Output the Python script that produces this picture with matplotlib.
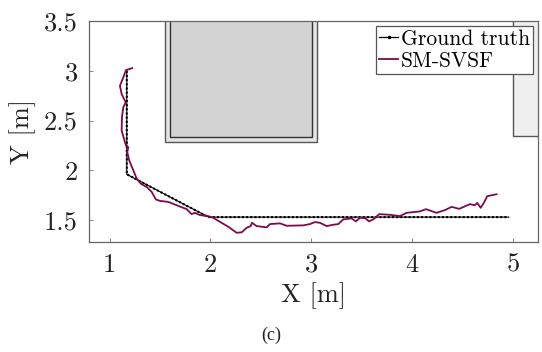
import matplotlib
matplotlib.use("Agg")
import matplotlib.pyplot as plt
from matplotlib.patches import Rectangle
from matplotlib.lines import Line2D

plt.rcParams['font.family'] = ['cmr10', 'DejaVu Serif']
plt.rcParams['axes.formatter.use_mathtext'] = True
plt.rcParams['mathtext.fontset'] = 'cm'

# Ground truth path (corner points)
gt_x = [1.17, 1.17, 1.98, 4.96]
gt_y = [3.00, 1.96, 1.53, 1.53]

# SM-SVSF estimated trajectory
est_x = [1.224, 1.162, 1.129, 1.102, 1.119, 1.159, 1.135, 1.122, 1.119, 1.142,
         1.162, 1.185, 1.175, 1.194, 1.228, 1.268, 1.31, 1.367, 1.417, 1.459,
         1.499, 1.581, 1.681, 1.764, 1.813, 1.846, 1.896, 1.978, 2.028, 2.094,
         2.177, 2.26, 2.31, 2.359, 2.399, 2.412, 2.458, 2.558, 2.59, 2.69,
         2.756, 2.921, 2.987, 3.037, 3.086, 3.153, 3.218, 3.268, 3.317, 3.401,
         3.443, 3.483, 3.533, 3.575, 3.615, 3.675, 3.781, 3.88, 3.946, 4.078,
         4.138, 4.244, 4.326, 4.393, 4.468, 4.574, 4.624, 4.647, 4.681, 4.713,
         4.746, 4.839]
est_y = [3.027, 3.007, 2.917, 2.85, 2.767, 2.683, 2.633, 2.533, 2.40, 2.317,
         2.25, 2.233, 2.183, 2.10, 2.017, 1.917, 1.865, 1.833, 1.783, 1.707,
         1.693, 1.683, 1.643, 1.61, 1.56, 1.573, 1.55, 1.54, 1.523, 1.483,
         1.433, 1.373, 1.377, 1.423, 1.44, 1.473, 1.44, 1.427, 1.46, 1.467,
         1.443, 1.447, 1.46, 1.48, 1.473, 1.44, 1.453, 1.46, 1.507, 1.517,
         1.487, 1.523, 1.52, 1.487, 1.507, 1.56, 1.553, 1.54, 1.573, 1.587,
         1.61, 1.573, 1.60, 1.633, 1.613, 1.66, 1.65, 1.673, 1.623, 1.673,
         1.74, 1.76]

# Obstacles: (x0, x1, y0)
obs_outer = (1.55, 3.06, 2.28)
obs_inner = (1.60, 3.01, 2.33)
obs_right = (5.00, 5.40, 2.34)

x_ticks = [1, 2, 3, 4, 5]
y_ticks = [1.5, 2, 2.5, 3, 3.5]

fig = plt.figure(figsize=(5.42, 3.52), dpi=100)
ax = fig.add_axes([0.1642, 0.3125, 0.8284, 0.6278])
ax.set_xlim(0.795, 5.25)
ax.set_ylim(1.28, 3.5)

top = 3.7
ax.add_patch(Rectangle((obs_outer[0], obs_outer[2]), obs_outer[1] - obs_outer[0],
                       top - obs_outer[2], facecolor='#e4e4e4', edgecolor='#555555', lw=1.0, zorder=1))
ax.add_patch(Rectangle((obs_inner[0], obs_inner[2]), obs_inner[1] - obs_inner[0],
                       top - obs_inner[2], facecolor='#d3d3d3', edgecolor='#333333', lw=1.0, zorder=1))
ax.add_patch(Rectangle((obs_right[0], obs_right[2]), obs_right[1] - obs_right[0],
                       top - obs_right[2], facecolor='#f0f0f0', edgecolor='#555555', lw=1.0, zorder=1))

ax.plot(gt_x, gt_y, color='black', lw=0.8, zorder=3)
ax.plot(gt_x, gt_y, color='black', lw=1.5, linestyle=(0, (1, 1)), zorder=3)
ax.plot(est_x, est_y, color='#7a0c4c', lw=1.3, zorder=4)

ax.set_xticks(x_ticks)
ax.set_yticks(y_ticks)
ax.set_xticklabels([str(v) for v in x_ticks])
ax.set_yticklabels([str(v) for v in y_ticks])
ax.tick_params(direction='in', length=3, width=0.5, colors='#555555', labelsize=19,
               labelcolor='#222222', pad=8)
for s in ax.spines.values():
    s.set_color('#666666')
    s.set_linewidth(0.9)

ax.set_xlabel('X [m]', fontsize=19, color='#222222', labelpad=4)
ax.set_ylabel('Y [m]', fontsize=19, color='#222222', labelpad=6)

handles = [Line2D([], [], color='black', lw=0.9, marker='.', markersize=3),
           Line2D([], [], color='#7a0c4c', lw=1.3)]
leg = ax.legend(handles, ['Ground truth', 'SM-SVSF'], loc='upper right',
                bbox_to_anchor=(0.989, 0.977), fontsize=15.5, frameon=True,
                fancybox=False, framealpha=1, edgecolor='#555555',
                handlelength=0.9, handletextpad=0.1, borderpad=0.15,
                labelspacing=0.1, borderaxespad=0)
leg.get_frame().set_linewidth(0.9)
leg.set_zorder(10)

fig.text(0.5, 0.048, '(c)', ha='center', va='center', fontsize=13,
         family='Liberation Serif', color='#222222')

fig.savefig('out.png', dpi=100)
